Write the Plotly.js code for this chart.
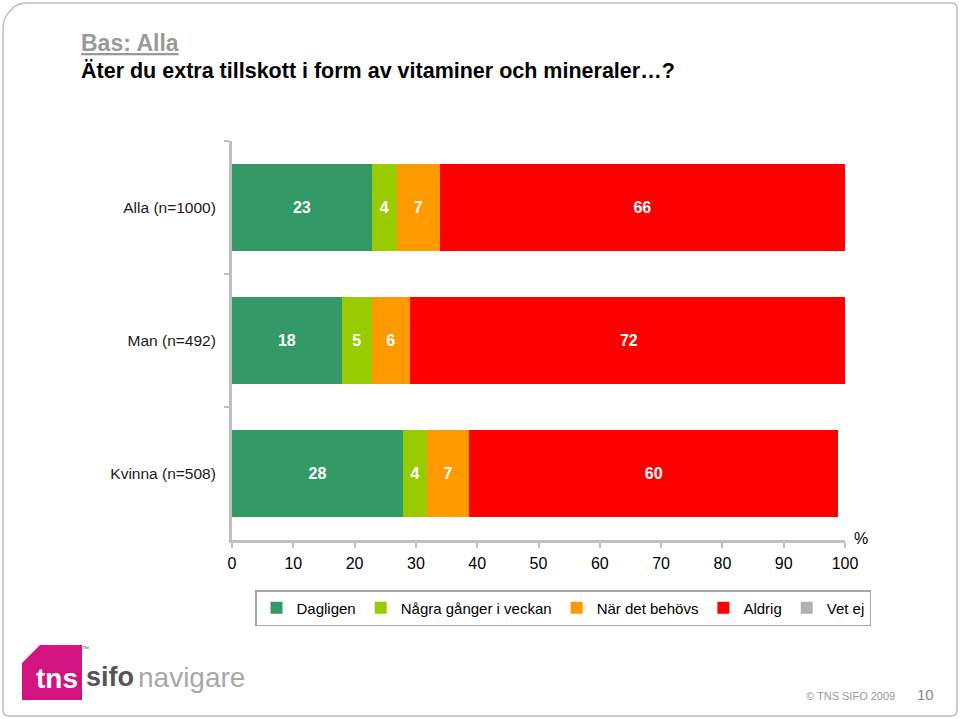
<!DOCTYPE html>
<html>
<head>
<meta charset="utf-8">
<script src="https://cdn.plot.ly/plotly-3.0.1.min.js"></script>
<style>
html,body{margin:0;padding:0;background:#fff;}
#chart{width:960px;height:719px;}
</style>
</head>
<body>
<div id="chart"></div>
<script>
// ---- data ----
const categories = ["Alla (n=1000)", "Man (n=492)", "Kvinna (n=508)"];
const seriesNames = ["Dagligen", "Några gånger i veckan", "När det behövs", "Aldrig", "Vet ej"];
const dagligen = [22.8, 17.9, 27.9];
const nagraGanger = [4.1, 4.9, 3.9];
const narDetBehovs = [7.0, 6.2, 6.9];
const aldrig = [66.1, 71.5, 60.2];
const vetEj = [0, 0, 0];
const xTickValues = [0, 10, 20, 30, 40, 50, 60, 70, 80, 90, 100];
const colors = ["#339966", "#99cc00", "#ff9900", "#ff0000", "#b2b2b2"];

const seriesValues = [dagligen, nagraGanger, narDetBehovs, aldrig, vetEj];

// ---- layout geometry (pixels) ----
const W = 960, H = 719;
const L = 232, R = 845, T = 141, B = 540;
const px = x => x / W;
const py = y => (H - y) / H;

const FONT = '"Liberation Sans", Arial, sans-serif';

const traces = seriesNames.map((name, i) => ({
  type: 'bar',
  orientation: 'h',
  name: name,
  y: categories,
  x: seriesValues[i],
  marker: {color: colors[i], line: {width: 0}},
  texttemplate: i < 4 ? '<b>%{x:.0f}</b>' : '',
  textposition: 'inside',
  insidetextanchor: 'middle',
  textangle: 0,
  constraintext: 'none',
  insidetextfont: {family: FONT, size: 16, color: '#ffffff'},
  hoverinfo: 'x+name'
}));

const frame = 'M 3,28 Q 3,18 10,11 L 14,7 Q 19,3 28,3 L 951,3 Q 957,3 957,9 L 957,710 Q 957,716 951,716 L 9,716 Q 3,716 3,710 Z';
function toPaperPath(p) {
  return p.replace(/(-?\d+\.?\d*),(-?\d+\.?\d*)/g, (m, a, b) => px(+a).toFixed(5) + ',' + py(+b).toFixed(5));
}
const logoBox = 'M 22,663 L 40,645 L 82,645 L 82,700 L 22,700 Z';

const layout = {
  width: W, height: H,
  margin: {l: 0, r: 0, t: 0, b: 0, pad: 0},
  paper_bgcolor: '#ffffff',
  plot_bgcolor: '#ffffff',
  barmode: 'stack',
  bargap: 0.34,
  font: {family: FONT, size: 16, color: '#000'},
  showlegend: true,
  legend: {
    orientation: 'h',
    x: px(255), y: py(590), xanchor: 'left', yanchor: 'top',
    bordercolor: '#a6a6a6', borderwidth: 1.5,
    font: {family: FONT, size: 15, color: '#000'},
    traceorder: 'normal',
    itemclick: false, itemdoubleclick: false,
    tracegroupgap: 0
  },
  xaxis: {
    domain: [L / W, R / W],
    range: [0, 100],
    tickvals: xTickValues,
    ticktext: xTickValues.map(String),
    showgrid: false, zeroline: false,
    showline: true, linecolor: '#bfbfbf', linewidth: 3,
    ticks: 'outside', ticklen: 5, tickwidth: 2, tickcolor: '#bfbfbf',
    ticklabelstandoff: 2,
    tickfont: {family: FONT, size: 16, color: '#000'},
    fixedrange: true
  },
  yaxis: {
    domain: [(H - B) / H, (H - T) / H],
    type: 'category',
    autorange: 'reversed',
    showgrid: false, zeroline: false,
    showline: true, linecolor: '#bfbfbf', linewidth: 3,
    ticks: 'outside', tickson: 'boundaries', ticklen: 5, tickwidth: 2, tickcolor: '#bfbfbf',
    ticklabelstandoff: 10,
    tickfont: {family: FONT, size: 15.5, color: '#1a1a1a'},
    fixedrange: true
  },
  shapes: [
    {type: 'path', xref: 'paper', yref: 'paper', path: toPaperPath(frame),
     line: {color: '#bdbdbd', width: 1.5}, fillcolor: 'rgba(0,0,0,0)', layer: 'below'},
    {type: 'path', xref: 'paper', yref: 'paper', path: toPaperPath(logoBox),
     line: {width: 0}, fillcolor: '#d3137f', layer: 'above'}
  ],
  annotations: [
    {xref: 'paper', yref: 'paper', x: px(79), y: py(43), xanchor: 'left', yanchor: 'middle',
     text: '<b><u>Bas: Alla</u></b>', showarrow: false,
     font: {family: FONT, size: 23, color: '#999999'}},
    {xref: 'paper', yref: 'paper', x: px(79), y: py(71), xanchor: 'left', yanchor: 'middle',
     text: '<b>Äter du extra tillskott i form av vitaminer och mineraler…?</b>', showarrow: false,
     font: {family: FONT, size: 21.5, color: '#000000'}},
    {xref: 'paper', yref: 'paper', x: px(852), y: py(538), xanchor: 'left', yanchor: 'middle',
     text: '%', showarrow: false, font: {family: FONT, size: 16, color: '#000'}},
    {xref: 'paper', yref: 'paper', x: px(34), y: py(678), xanchor: 'left', yanchor: 'middle',
     text: '<b>tns</b>', showarrow: false, font: {family: FONT, size: 28, color: '#ffffff'}},
    {xref: 'paper', yref: 'paper', x: px(80), y: py(648), xanchor: 'left', yanchor: 'middle',
     text: '™', showarrow: false, font: {family: FONT, size: 7, color: '#666'}},
    {xref: 'paper', yref: 'paper', x: px(84), y: py(677), xanchor: 'left', yanchor: 'middle',
     text: '<b>sifo</b>', showarrow: false, font: {family: FONT, size: 27, color: '#555555'}},
    {xref: 'paper', yref: 'paper', x: px(136), y: py(677), xanchor: 'left', yanchor: 'middle',
     text: 'navigare', showarrow: false, font: {family: FONT, size: 28, color: '#a8a8a8'}},
    {xref: 'paper', yref: 'paper', x: px(897), y: py(696), xanchor: 'right', yanchor: 'middle',
     text: '© TNS SIFO 2009', showarrow: false, font: {family: FONT, size: 11, color: '#999999'}},
    {xref: 'paper', yref: 'paper', x: px(925), y: py(694), xanchor: 'center', yanchor: 'middle',
     text: '10', showarrow: false, font: {family: FONT, size: 15, color: '#888888'}}
  ]
};

Plotly.newPlot('chart', traces, layout, {displayModeBar: false, staticPlot: true});
</script>
</body>
</html>
